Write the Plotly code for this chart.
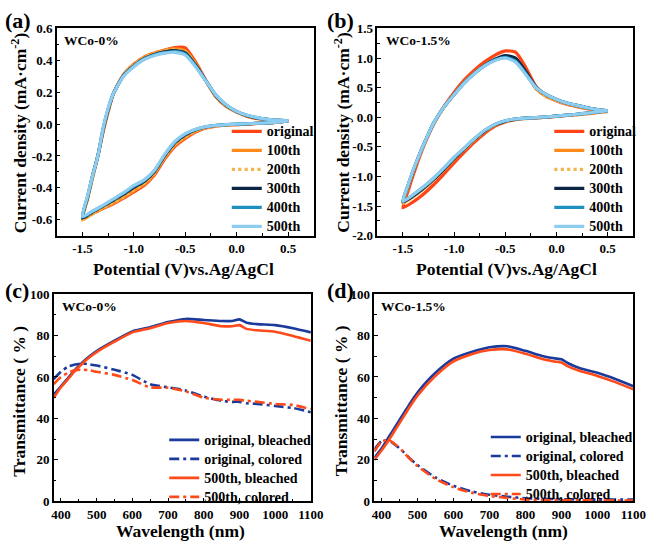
import plotly.graph_objects as go

W, H = 661, 557
FONT = "Liberation Serif"

# ---------------- data ----------------
cycles = ["original", "100th", "200th", "300th", "400th", "500th"]
cycle_colors = ["#FF4515", "#FF8A1C", "#F2B650", "#0B2545", "#1E8FBF", "#8DCDF0"]

potential_fwd = [-1.5, -1.45, -1.4, -1.35, -1.3, -1.25, -1.2, -1.1, -1.0, -0.9, -0.8, -0.7,
                 -0.6, -0.5, -0.4, -0.3, -0.2, -0.1, 0.0, 0.1, 0.2, 0.3, 0.4, 0.5]
potential_rev = [0.5, 0.4, 0.3, 0.2, 0.1, 0.0, -0.1, -0.2, -0.3, -0.4, -0.5, -0.6, -0.7,
                 -0.8, -0.9, -1.0, -1.1, -1.2, -1.3, -1.4, -1.5]

# (a) WCo-0%  current density, anodic (forward) branch
a_fwd_original = [-0.59, -0.46, -0.33, -0.2, -0.05, 0.08, 0.19, 0.31, 0.375, 0.42, 0.445, 0.465, 0.48, 0.478, 0.39, 0.275, 0.17, 0.11, 0.075, 0.05, 0.035, 0.028, 0.024, 0.02]
a_fwd_100th = [-0.60, -0.47, -0.33, -0.2, -0.05, 0.08, 0.19, 0.31, 0.375, 0.42, 0.445, 0.463, 0.472, 0.46, 0.38, 0.27, 0.17, 0.11, 0.075, 0.05, 0.035, 0.028, 0.024, 0.02]
a_fwd_200th = [-0.60, -0.47, -0.33, -0.2, -0.05, 0.08, 0.19, 0.31, 0.372, 0.417, 0.442, 0.46, 0.468, 0.455, 0.375, 0.27, 0.172, 0.112, 0.076, 0.051, 0.036, 0.028, 0.024, 0.02]
a_fwd_300th = [-0.59, -0.46, -0.32, -0.2, -0.04, 0.09, 0.19, 0.305, 0.365, 0.41, 0.437, 0.453, 0.46, 0.447, 0.37, 0.272, 0.176, 0.116, 0.078, 0.053, 0.037, 0.029, 0.024, 0.02]
a_fwd_400th = [-0.585, -0.455, -0.32, -0.2, -0.03, 0.095, 0.19, 0.302, 0.362, 0.407, 0.433, 0.448, 0.455, 0.44, 0.365, 0.272, 0.18, 0.12, 0.08, 0.055, 0.04, 0.03, 0.025, 0.02]
a_fwd_500th = [-0.58, -0.45, -0.32, -0.2, -0.03, 0.1, 0.19, 0.3, 0.36, 0.405, 0.43, 0.445, 0.45, 0.433, 0.36, 0.27, 0.18, 0.12, 0.08, 0.055, 0.04, 0.03, 0.025, 0.02]
# (a) cathodic (reverse) branch
a_rev_original = [0.02, 0.012, 0.007, 0.004, 0.0, -0.003, -0.007, -0.013, -0.025, -0.05, -0.09, -0.14, -0.22, -0.32, -0.385, -0.425, -0.465, -0.5, -0.53, -0.56, -0.59]
a_rev_100th = [0.02, 0.012, 0.007, 0.004, 0.0, -0.003, -0.006, -0.012, -0.023, -0.046, -0.084, -0.132, -0.212, -0.312, -0.378, -0.418, -0.46, -0.495, -0.528, -0.562, -0.60]
a_rev_200th = [0.02, 0.012, 0.007, 0.004, 0.001, -0.002, -0.005, -0.011, -0.021, -0.043, -0.079, -0.126, -0.206, -0.306, -0.372, -0.412, -0.455, -0.49, -0.525, -0.56, -0.60]
a_rev_300th = [0.02, 0.012, 0.008, 0.005, 0.001, -0.001, -0.004, -0.009, -0.018, -0.036, -0.068, -0.116, -0.198, -0.298, -0.36, -0.397, -0.44, -0.478, -0.515, -0.55, -0.59]
a_rev_400th = [0.02, 0.012, 0.008, 0.005, 0.002, 0.0, -0.003, -0.008, -0.017, -0.034, -0.063, -0.111, -0.193, -0.293, -0.354, -0.39, -0.434, -0.473, -0.512, -0.547, -0.585]
a_rev_500th = [0.02, 0.012, 0.008, 0.005, 0.002, 0.0, -0.003, -0.008, -0.016, -0.032, -0.06, -0.108, -0.19, -0.29, -0.35, -0.385, -0.43, -0.47, -0.51, -0.545, -0.58]

# (b) WCo-1.5%  forward branch
b_fwd_original = [-1.53, -1.25, -0.98, -0.73, -0.5, -0.3, -0.12, 0.18, 0.42, 0.63, 0.8, 0.94, 1.05, 1.12, 1.1, 0.84, 0.52, 0.36, 0.28, 0.22, 0.18, 0.145, 0.12, 0.1]
b_fwd_100th = [-1.45, -1.18, -0.92, -0.69, -0.48, -0.29, -0.11, 0.17, 0.39, 0.59, 0.75, 0.88, 0.97, 1.02, 0.98, 0.74, 0.48, 0.35, 0.28, 0.225, 0.185, 0.15, 0.125, 0.1]
b_fwd_200th = [-1.45, -1.18, -0.92, -0.69, -0.48, -0.29, -0.11, 0.17, 0.385, 0.585, 0.745, 0.875, 0.965, 1.01, 0.97, 0.74, 0.49, 0.36, 0.285, 0.23, 0.19, 0.155, 0.13, 0.1]
b_fwd_300th = [-1.43, -1.16, -0.91, -0.68, -0.47, -0.28, -0.1, 0.17, 0.385, 0.585, 0.745, 0.88, 0.98, 1.04, 1.0, 0.77, 0.51, 0.38, 0.3, 0.24, 0.2, 0.16, 0.13, 0.11]
b_fwd_400th = [-1.42, -1.15, -0.9, -0.68, -0.47, -0.28, -0.1, 0.17, 0.38, 0.58, 0.74, 0.87, 0.965, 1.01, 0.95, 0.74, 0.5, 0.38, 0.3, 0.24, 0.2, 0.16, 0.13, 0.11]
b_fwd_500th = [-1.42, -1.15, -0.9, -0.68, -0.47, -0.28, -0.1, 0.17, 0.38, 0.58, 0.74, 0.87, 0.96, 1.0, 0.93, 0.72, 0.5, 0.38, 0.3, 0.24, 0.2, 0.16, 0.13, 0.11]
# (b) reverse branch
b_rev_original = [0.1, 0.08, 0.06, 0.045, 0.03, 0.015, 0.0, -0.01, -0.02, -0.04, -0.08, -0.15, -0.27, -0.42, -0.59, -0.77, -0.96, -1.14, -1.3, -1.43, -1.53]
b_rev_100th = [0.1, 0.08, 0.06, 0.045, 0.03, 0.016, 0.002, -0.008, -0.018, -0.035, -0.07, -0.13, -0.24, -0.38, -0.54, -0.71, -0.89, -1.06, -1.21, -1.34, -1.45]
b_rev_200th = [0.1, 0.08, 0.06, 0.045, 0.03, 0.017, 0.003, -0.007, -0.017, -0.034, -0.068, -0.128, -0.236, -0.376, -0.536, -0.705, -0.885, -1.055, -1.205, -1.335, -1.45]
b_rev_300th = [0.11, 0.09, 0.07, 0.05, 0.035, 0.02, 0.004, -0.006, -0.016, -0.032, -0.065, -0.125, -0.23, -0.37, -0.53, -0.7, -0.88, -1.05, -1.2, -1.33, -1.43]
b_rev_400th = [0.11, 0.09, 0.07, 0.05, 0.035, 0.02, 0.005, -0.005, -0.015, -0.03, -0.06, -0.12, -0.22, -0.36, -0.52, -0.68, -0.86, -1.03, -1.18, -1.31, -1.42]
b_rev_500th = [0.11, 0.09, 0.07, 0.05, 0.035, 0.02, 0.005, -0.005, -0.015, -0.03, -0.06, -0.12, -0.22, -0.36, -0.52, -0.68, -0.86, -1.03, -1.18, -1.31, -1.42]

# transmittance spectra
wavelength = [380, 400, 420, 440, 460, 480, 500, 550, 600, 650, 700, 750, 800, 850, 880, 900, 920, 950, 1000, 1050, 1100]
spectra_names = ["original, bleached", "original, colored", "500th, bleached", "500th, colored"]
spectra_colors = ["#1A3A9C", "#1A3A9C", "#FF4A1A", "#FF4A1A"]

c_orig_bleached = [51.5, 55.5, 59.5, 63.5, 67, 70, 72.5, 77.5, 82, 84, 86.5, 88, 87.5, 87, 87, 87.8, 86.2, 85.5, 85, 83.5, 81.5]
c_orig_colored = [59, 62.5, 65, 66, 66.5, 66, 65.5, 63.5, 61, 56.5, 55, 53.5, 50.5, 48.5, 48, 48, 47.3, 47, 46, 45, 43]
c_500_bleached = [50, 55, 59, 63, 66.5, 69.5, 72, 77, 81.5, 83.5, 86, 87, 86, 84.5, 84.5, 85, 83.2, 82.5, 81.8, 79.8, 77.5]
c_500_colored = [56.5, 60, 62, 63.3, 63.5, 63.2, 62.5, 61, 58.5, 55, 54.8, 53, 50, 49, 49, 49, 48.5, 48, 47, 46.5, 44.5]

d_orig_bleached = [21, 25.5, 31, 36.5, 42, 47.5, 52.5, 62, 68.8, 72, 74.3, 74.8, 72.6, 70, 69, 68.5, 66.5, 64.3, 62, 59, 55.5]
d_orig_colored = [25, 29, 29.3, 27, 24, 20.5, 17.5, 11.5, 7.5, 4.8, 3.2, 2.2, 1.5, 1.2, 1.1, 1.0, 1.0, 0.9, 0.8, 0.8, 0.8]
d_500_bleached = [20, 24.5, 29.5, 35, 40.5, 46, 51, 60.5, 67.5, 71, 73, 73.3, 71.2, 68.5, 67.5, 67, 65, 63, 60.5, 57.5, 54]
d_500_colored = [24, 28.8, 29.5, 27.2, 24, 20.2, 17, 10.8, 6.8, 4.2, 2.6, 1.6, 0.9, 0.6, 0.5, 0.5, 0.5, 0.5, 0.4, 0.4, 0.4]

# tick labels
a_xticks = [-1.5, -1.0, -0.5, 0.0, 0.5]
a_xticktext = ["-1.5", "-1.0", "-0.5", "0.0", "0.5"]
a_yticks = [-0.6, -0.4, -0.2, 0.0, 0.2, 0.4, 0.6]
a_yticktext = ["-0.6", "-0.4", "-0.2", "0.0", "0.2", "0.4", "0.6"]
b_yticks = [-2.0, -1.5, -1.0, -0.5, 0.0, 0.5, 1.0, 1.5]
b_yticktext = ["-2.0", "-1.5", "-1.0", "-0.5", "0.0", "0.5", "1.0", "1.5"]
t_xticks = [400, 500, 600, 700, 800, 900, 1000, 1100]
t_yticks = [0, 20, 40, 60, 80, 100]

# ---------------- figure ----------------
def px_x(p):
    return p / W

def px_y(p):
    return 1 - p / H

fig = go.Figure()

a_fwd = [a_fwd_original, a_fwd_100th, a_fwd_200th, a_fwd_300th, a_fwd_400th, a_fwd_500th]
a_rev = [a_rev_original, a_rev_100th, a_rev_200th, a_rev_300th, a_rev_400th, a_rev_500th]
b_fwd = [b_fwd_original, b_fwd_100th, b_fwd_200th, b_fwd_300th, b_fwd_400th, b_fwd_500th]
b_rev = [b_rev_original, b_rev_100th, b_rev_200th, b_rev_300th, b_rev_400th, b_rev_500th]

def leg_name(s):
    return "<span style='font-size:14px'>" + s + "</span>"

for fw, rv, xa, ya, lg in [(a_fwd, a_rev, "x", "y", "legend"),
                           (b_fwd, b_rev, "x2", "y2", "legend2")]:
    for i, name in enumerate(cycles):
        fig.add_trace(go.Scatter(
            x=potential_fwd + potential_rev, y=fw[i] + rv[i],
            mode="lines", name=leg_name(name),
            line=dict(color=cycle_colors[i], width=3.2,
                      dash="dot" if name == "200th" else "solid",
                      shape="spline", smoothing=0.6),
            xaxis=xa, yaxis=ya, legend=lg, showlegend=True))

dashdot = "10px,4px,3px,4px"
for series, xa, ya, lg in [([c_orig_bleached, c_orig_colored, c_500_bleached, c_500_colored], "x3", "y3", "legend3"),
                           ([d_orig_bleached, d_orig_colored, d_500_bleached, d_500_colored], "x4", "y4", "legend4")]:
    for i, name in enumerate(spectra_names):
        fig.add_trace(go.Scatter(
            x=wavelength, y=series[i], mode="lines", name=leg_name(name),
            line=dict(color=spectra_colors[i], width=2.6,
                      dash=dashdot if "colored" in name else "solid",
                      shape="spline", smoothing=0.6),
            xaxis=xa, yaxis=ya, legend=lg))

tickfont = dict(family=FONT, size=13, color="black", weight="bold")

def axis(domain, rng, tickvals, ticktext, minor_dtick, anchor):
    return dict(domain=domain, range=rng, tickvals=tickvals, ticktext=ticktext,
                ticks="inside", ticklen=4, tickwidth=1.3, tickcolor="black",
                showline=True, linecolor="black", linewidth=1.5, mirror=True,
                showgrid=False, zeroline=False, tickfont=tickfont, anchor=anchor,
                minor=dict(ticks="inside", ticklen=2.5, tickwidth=1, tickcolor="black",
                           dtick=minor_dtick, showgrid=False))

top_y = [px_y(235), px_y(22)]
bot_y = [px_y(508), px_y(295)]
t_xtext = [str(v) for v in t_xticks]
t_ytext = [str(v) for v in t_yticks]

fig.update_layout(
    width=W, height=H, margin=dict(l=0, r=0, t=0, b=0),
    paper_bgcolor="white", plot_bgcolor="white", showlegend=True,
    xaxis=axis([px_x(56), px_x(319)], [-1.75, 0.75], a_xticks, a_xticktext, 0.25, "y"),
    yaxis=axis(top_y, [-0.7, 0.6], a_yticks, a_yticktext, 0.1, "x"),
    xaxis2=axis([px_x(384), px_x(646)], [-1.75, 0.75], a_xticks, a_xticktext, 0.25, "y2"),
    yaxis2=axis(top_y, [-2.0, 1.5], b_yticks, b_yticktext, 0.25, "x2"),
    xaxis3=axis([px_x(53), px_x(316)], [380, 1100], t_xticks, t_xtext, 50, "y3"),
    yaxis3=axis(bot_y, [0, 100], t_yticks, t_ytext, 10, "x3"),
    xaxis4=axis([px_x(381), px_x(646)], [380, 1100], t_xticks, t_xtext, 50, "y4"),
    yaxis4=axis(bot_y, [0, 100], t_yticks, t_ytext, 10, "x4"),
)

def legend_cfg(xp, yp):
    return dict(x=px_x(xp), y=px_y(yp), xanchor="left", yanchor="top",
                bgcolor="rgba(0,0,0,0)", borderwidth=0, itemwidth=30,
                font=dict(family=FONT, size=12, color="black", weight="bold"))

fig.update_layout(legend=legend_cfg(230, 113), legend2=legend_cfg(560, 113),
                  legend3=legend_cfg(166, 430), legend4=legend_cfg(495, 427))

ann = []
def add_text(text, x, y, size, xanchor="center", angle=0):
    ann.append(dict(text=text, x=px_x(x), y=px_y(y), xref="paper", yref="paper",
                    showarrow=False, xanchor=xanchor, yanchor="middle", textangle=angle,
                    font=dict(family=FONT, size=size, color="black", weight="bold")))

for lab, x, y in [("(a)", 1, 14), ("(b)", 331, 14), ("(c)", 1, 291), ("(d)", 331, 291)]:
    add_text(lab, x, y, 22, xanchor="left")
for lab, x, y in [("WCo-0%", 61, 34), ("WCo-1.5%", 391, 34), ("WCo-0%", 59, 308), ("WCo-1.5%", 386, 308)]:
    add_text(lab, x, y, 13.5, xanchor="left")
add_text("Current density (mA·cm<sup>-2</sup>)", 17, 129, 17.5, angle=-90)
add_text("Current density (mA·cm<sup>-2</sup>)", 347, 129, 17.5, angle=-90)
add_text("Potential (V)vs.Ag/AgCl", 186, 269, 17.5)
add_text("Potential (V)vs.Ag/AgCl", 516, 269, 17.5)
add_text("Transmittance ( % )", 17, 405, 17.5, angle=-90)
add_text("Transmittance ( % )", 347, 405, 17.5, angle=-90)
add_text("Wavelength (nm)", 183, 539, 17.5)
add_text("Wavelength (nm)", 513, 539, 17.5)
fig.update_layout(annotations=ann)

fig.write_html("out.html")
